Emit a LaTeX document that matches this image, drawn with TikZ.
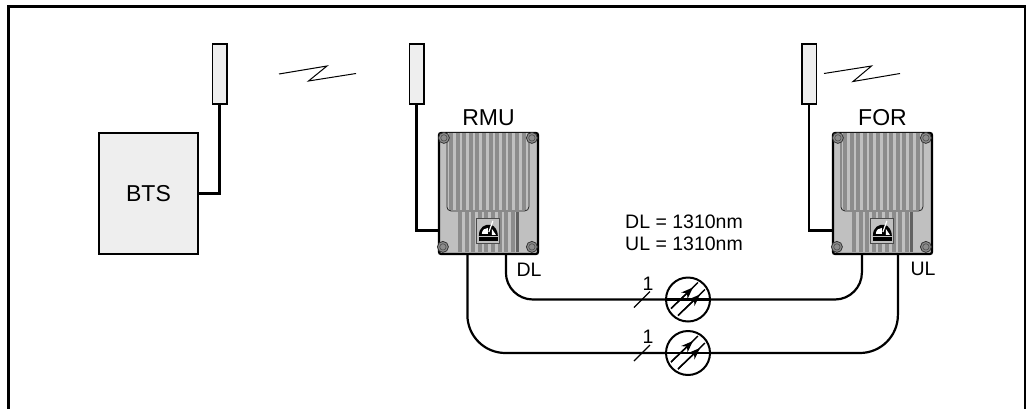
\documentclass[tikz,border=0pt]{standalone}
\usepackage{fontspec}
\setmainfont{Liberation Sans}
\usepackage{xcolor}
\usetikzlibrary{arrows.meta,positioning,calc}
\definecolor{boxfill}{HTML}{EEEEEE}
\definecolor{modbody}{HTML}{C0C0C0}
\definecolor{modfin}{HTML}{8C8C8C}
\tikzset{
  antenna/.style={draw, line width=1.5pt, fill=boxfill, minimum width=14.5pt, minimum height=60pt, inner sep=0pt},
  module/.style={draw, line width=2.2pt, rounded corners=2pt, fill=modbody, minimum width=99pt, minimum height=121pt, inner sep=0pt},
  link/.style={line width=2.2pt},
  fibre/.style={line width=2.2pt, rounded corners=27pt},
  meter/.style={circle, draw, line width=2pt, fill=none, minimum size=44pt, inner sep=0pt},
  lbl/.style={font=\fontsize{23}{25}\selectfont, inner sep=0pt},
  midlbl/.style={font=\fontsize{19.5}{21}\selectfont, inner sep=0pt},
  hop/.style={line width=1pt},
}
% heat sink, screws and badge of one module, origin at its top left corner
\newcommand{\moddetail}[1]{
  \begin{scope}[shift={(#1)}]
    \foreach \i in {0,...,8} {
      \fill[modfin] (20+\i*6.6,80) rectangle ++(4,40);
    }
    \fill[modfin!70!black] (78,80) rectangle (81,120);
    \fill[modbody, draw=black!85, line width=0.8pt, rounded corners=4pt] (9,1) -- (9,79) -- (91,79) -- (91,1);
    \foreach \i in {0,...,11} {
      \fill[modfin] (11+\i*6.6,1.5) rectangle ++(4,77);
    }
    \foreach \px/\py in {6/6, 94/6, 5/115, 94/115} {
      \draw[black!80, fill=modfin, line width=0.8pt] (\px,\py) circle (5.5);
      \draw[black!70, line width=0.6pt] (\px,\py) circle (3.2);
    }
    % badge
    \fill[modbody, draw=black!70, line width=1pt] (39,87) rectangle (62,112);
    \fill[black] (41,104) .. controls (41,95) and (47,92) .. (53,93) .. controls (57,94) and (60,99) .. (60,104) -- cycle;
    \fill[white] (44,102) .. controls (44,98) and (47,96) .. (50,96) -- (50,102) -- cycle;
    \fill[white] (54,97) -- (58,103) -- (54,103) -- cycle;
    \draw[white, line width=1.2pt] (55,89) -- (51,100);
    \fill[black] (41,105) rectangle (60,109);
  \end{scope}
}
\begin{document}
\begin{tikzpicture}[x=1pt,y=-1pt]
  \useasboundingbox (0,0) rectangle (1026,408);
  \begin{scope}
    \clip (0,0) rectangle (1026,408);
    \draw[line width=3pt] (8.5,6.2) rectangle (1025,420);
  \end{scope}

  % --- BTS and antennas ---
  \node[draw, line width=2pt, fill=boxfill, minimum width=99pt, minimum height=121pt, inner sep=0pt, font=\fontsize{23}{25}\selectfont] (bts) at (148.5,193.5) {BTS};
  \node[antenna] (antbts) at (219.5,74) {};
  \node[antenna] (antrmu) at (416.5,74) {};
  \node[antenna] (antfor) at (809,74) {};

  % --- Modules ---
  \node[module] (rmu) at (488.5,193.5) {};
  \node[module] (for) at (882.5,193.5) {};
  \moddetail{rmu.north west}
  \moddetail{for.north west}
  \node[lbl, above=6pt of rmu] (rmulbl) {RMU};
  \node[lbl, above=6pt of for] (forlbl) {FOR};

  % Feeders
  \draw[link] (bts.east) -| (antbts.south);
  \draw[link] (antrmu.south) |- ($(rmu.west)+(0,37)$);
  \draw[link] (antfor.south) |- ($(for.west)+(0,37)$);

  % Radio hops
  \draw[hop] (279,74) coordinate (hopa) -- (327,66) -- (308.5,81) -- (356,73.5);
  \draw[hop] (824,73.5) coordinate (hopb) -- (871.5,66) -- (853,81.5) -- (900,73.5);

  % --- Fibres ---
  \node[meter] (dlmeter) at (688,299.5) {};
  \node[meter] (ulmeter) at (688,353) {};
  \coordinate (rmudl) at ($(rmu.south west)+(68,0)$);
  \coordinate (rmuul) at ($(rmu.south west)+(29.5,0)$);
  \coordinate (fordl) at ($(for.south west)+(30,0)$);
  \coordinate (forul) at ($(for.south west)+(66,0)$);
  \draw[fibre] (rmudl) |- (dlmeter.west);
  \draw[fibre] (fordl) |- (dlmeter.east);
  \draw[fibre,rounded corners=38pt] (rmuul) |- (ulmeter.west);
  \draw[fibre,rounded corners=38pt] (forul) |- (ulmeter.east);
  \draw[link] (dlmeter.west) -- (dlmeter.east);
  \draw[link] (ulmeter.west) -- (ulmeter.east);

  % Slashes and arrows on the fibres
  \foreach \m/\t in {dlmeter/dlcount, ulmeter/ulcount} {
    \draw[line width=1.3pt] ($(\m)+(-54,8)$) -- ($(\m)+(-38,-8)$);
    \node[midlbl] (\t) at ($(\m)+(-40,-16)$) {1};
    \draw[line width=1.4pt] ($(\m)+(-17,9)$) -- ($(\m)+(10,-17)$);
    \draw[line width=1.4pt] ($(\m)+(-10,16)$) -- ($(\m)+(17,-10)$);
    \draw[line width=1.4pt, -{Stealth[length=12pt,width=9pt]}] ($(\m)+(-17,9)$) -- ($(\m)+(5,-12)$);
    \draw[line width=1.4pt, -{Stealth[length=12pt,width=9pt]}] ($(\m)+(-10,16)$) -- ($(\m)+(12,-5)$);
  }

  % Labels
  \node[midlbl, anchor=west] (dlline) at (625,222) {DL = 1310nm};
  \node[midlbl, anchor=west] (ulline) at (625,244) {UL = 1310nm};
  \node[midlbl] (dllbl) at (529,270) {DL};
  \node[midlbl] (ullbl) at (923,269) {UL};
\end{tikzpicture}
\end{document}
